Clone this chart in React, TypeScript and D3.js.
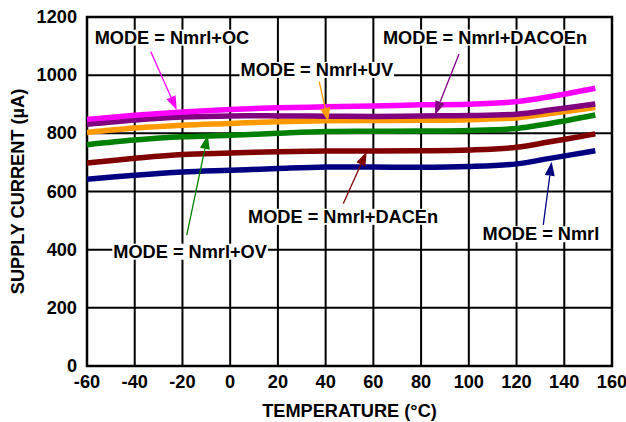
import React from "react";
import * as d3 from "d3";

const temps = [-60, -40, -20, 0, 20, 40, 60, 80, 100, 120, 134, 153];
const nmrl = [642, 656, 667, 673, 679, 684, 684, 683, 686, 695, 714, 740];
const dacEn = [698, 714, 727, 732, 737, 739, 739, 740, 743, 752, 771, 798];
const ov = [761, 777, 788, 793, 800, 806, 807, 808, 810, 817, 834, 863];
const uv = [803, 818, 828, 834, 840, 843, 844, 845, 847, 853, 868, 889];
const dacoEn = [831, 846, 856, 860, 860, 859, 858, 860, 861, 866, 880, 901];
const oc = [848, 862, 873, 882, 888, 891, 894, 898, 900, 909, 926, 955];

const xTicks = [-60, -40, -20, 0, 20, 40, 60, 80, 100, 120, 140, 160];
const yTicks = [0, 200, 400, 600, 800, 1000, 1200];

const seriesNames = ["Nmrl", "Nmrl+DACEn", "Nmrl+OV", "Nmrl+UV", "Nmrl+DACOEn", "Nmrl+OC"];
const seriesValues = [nmrl, dacEn, ov, uv, dacoEn, oc];
const seriesColors = ["#000080", "#800000", "#008000", "#FF9900", "#800080", "#FF00FF"];

// annotation: label center (data), arrow start (data), arrow tip (data)
const annLabels = ["MODE = Nmrl", "MODE = Nmrl+DACEn", "MODE = Nmrl+OV", "MODE = Nmrl+UV", "MODE = Nmrl+DACOEn", "MODE = Nmrl+OC"];
const annTextPos: [number, number][] = [[130.2, 453], [47.3, 513], [-16.8, 393], [36.3, 1018], [106.8, 1129], [-24.4, 1129]];
const annFrom: [number, number][] = [[131.2, 485], [47.4, 559], [-18.2, 450], [37.3, 978], [95.9, 1073], [-33.3, 1081]];
const annTo: [number, number][] = [[134.7, 702], [57.2, 737], [-9.4, 794], [41.1, 840], [85.8, 863], [-22.4, 880]];

const W = 626, H = 422;
const L = 87, R = 612, T = 17, B = 366;
const FS = 18.2;
const font = "'Liberation Sans', Arial, sans-serif";

function measure(s: string): number {
  try {
    const c = document.createElement("canvas").getContext("2d");
    if (c) {
      c.font = `bold ${FS}px 'Liberation Sans', Arial, sans-serif`;
      return c.measureText(s).width;
    }
  } catch (e) {}
  return s.length * FS * 0.6;
}

export default function App() {
  const x = d3.scaleLinear().domain([-60, 160]).range([L, R]);
  const y = d3.scaleLinear().domain([0, 1200]).range([B, T]);
  const line = d3.line<number>()
    .x((_, i) => x(temps[i]))
    .y((d) => y(d))
    .curve(d3.curveCatmullRom.alpha(0.5));

  return (
    <svg width={W} height={H} style={{ position: "absolute", left: 0, top: 0, background: "#fff" }}>
      <rect x={0} y={0} width={W} height={H} fill="#fff" />
      {/* grid */}
      {xTicks.map((t) => (
        <line key={"gx" + t} x1={x(t)} x2={x(t)} y1={T} y2={B} stroke="#000" strokeWidth={2} />
      ))}
      {yTicks.map((t) => (
        <line key={"gy" + t} x1={L} x2={R} y1={y(t)} y2={y(t)} stroke="#000" strokeWidth={2} />
      ))}
      <rect x={L} y={T} width={R - L} height={B - T} fill="none" stroke="#000" strokeWidth={2.5} />
      {/* series */}
      {seriesValues.map((vals, i) => (
        <path key={seriesNames[i]} d={line(vals) || ""} fill="none" stroke={seriesColors[i]}
          strokeWidth={5.5} strokeLinecap="butt" />
      ))}
      {/* annotations */}
      {annLabels.map((lab, i) => {
        const [tx, ty] = annTextPos[i];
        const x1 = x(annFrom[i][0]), y1 = y(annFrom[i][1]);
        const x2 = x(annTo[i][0]), y2 = y(annTo[i][1]);
        const ang = Math.atan2(y2 - y1, x2 - x1);
        const len = 14, wid = 5;
        const bx = x2 - len * Math.cos(ang), by = y2 - len * Math.sin(ang);
        const px = -Math.sin(ang) * wid, py = Math.cos(ang) * wid;
        const w = measure(lab);
        const cx = x(tx), cy = y(ty);
        return (
          <g key={lab}>
            <rect x={cx - w / 2 - 1} y={cy - 8} width={w + 2} height={16} fill="#fff" />
            <text x={cx} y={cy} textAnchor="middle" dominantBaseline="central"
              fontFamily={font} fontWeight="bold" fontSize={FS} fill="#000">{lab}</text>
            <line x1={x1} y1={y1} x2={bx} y2={by} stroke={seriesColors[i]} strokeWidth={1.3} />
            <polygon points={`${x2},${y2} ${bx + px},${by + py} ${bx - px},${by - py}`} fill={seriesColors[i]} />
          </g>
        );
      })}
      {/* axis labels */}
      {yTicks.map((t) => (
        <text key={"yl" + t} x={77} y={y(t)} textAnchor="end" dominantBaseline="central"
          fontFamily={font} fontWeight="bold" fontSize={FS}>{t}</text>
      ))}
      {xTicks.map((t) => (
        <text key={"xl" + t} x={x(t)} y={381.5} textAnchor="middle" dominantBaseline="central"
          fontFamily={font} fontWeight="bold" fontSize={FS}>{t}</text>
      ))}
      <text x={349.5} y={411} textAnchor="middle" dominantBaseline="central"
        fontFamily={font} fontWeight="bold" fontSize={FS}>TEMPERATURE (°C)</text>
      <text transform={`translate(17.5, ${(T + B) / 2}) rotate(-90)`} textAnchor="middle" dominantBaseline="central"
        fontFamily={font} fontWeight="bold" fontSize={FS}>SUPPLY CURRENT (µA)</text>
    </svg>
  );
}
